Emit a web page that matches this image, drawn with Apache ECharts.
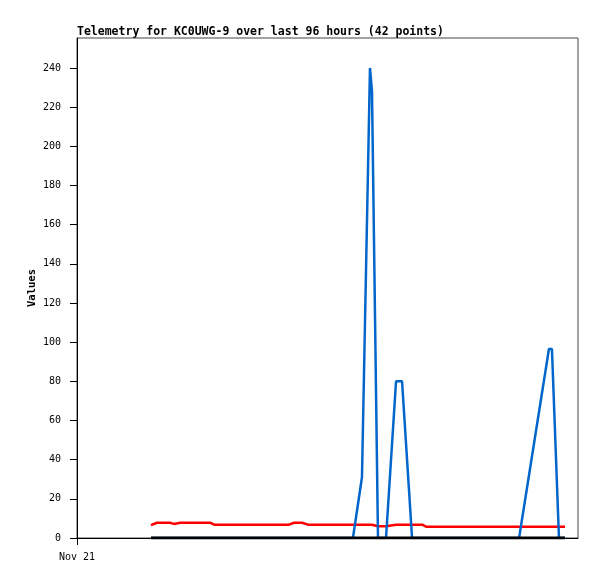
<!DOCTYPE html>
<html>
<head>
<meta charset="utf-8">
<script src="https://cdn.jsdelivr.net/npm/echarts@6/dist/echarts.min.js"></script>
<style>html,body{margin:0;padding:0;background:#fff}#c{width:597px;height:579px}</style>
</head>
<body>
<div id="c"></div>
<script>
// hours since Nov 21 00:00
var times = [3.69,3.99,4.29,4.64,4.84,5.14,5.64,6.14,6.64,6.84,7.63,8.63,9.63,10.58,10.83,11.23,11.53,12.13,12.62,13.12,13.77,14.22,14.62,14.72,15.02,15.42,15.92,16.22,16.72,17.22,17.42,18.11,18.61,19.11,20.11,21.11,22.06,23.55,23.70,24.05,24.20,24.35];
var redValues = [6.6,7.8,7.8,7.8,7.2,7.8,7.8,7.8,7.8,6.8,6.8,6.8,6.8,6.8,7.8,7.8,6.8,6.8,6.8,6.8,6.8,6.8,6.8,6.8,6.0,6.0,6.8,6.8,6.8,6.8,5.8,5.8,5.8,5.8,5.8,5.8,5.8,5.8,5.8,5.8,5.8,5.8];
var blueValues = [0,0,0,0,0,0,0,0,0,0,0,0,0,0,0,0,0,0,0,0,0,31,240,228,0,0,80,80,0,0,0,0,0,0,0,0,0,96.5,96.5,0,0,0];
var blackValues = [0,0,0,0,0,0,0,0,0,0,0,0,0,0,0,0,0,0,0,0,0,0,0,0,0,0,0,0,0,0,0,0,0,0,0,0,0,0,0,0,0,0];
var yTicks = [0,20,40,60,80,100,120,140,160,180,200,220,240];
var xTickLabels = {0: 'Nov 21'};

function pairs(vals){
  var out = [];
  for (var i = 0; i < times.length; i++) out.push([times[i], vals[i]]);
  return out;
}
var font = "'DejaVu Sans Mono', monospace";
var chart = echarts.init(document.getElementById('c'), null, {renderer:'canvas'});
chart.setOption({
  animation: false,
  backgroundColor: '#fff',
  title: {
    text: 'Telemetry for KC0UWG-9 over last 96 hours (42 points)',
    left: 77, top: 26, padding: 0,
    textStyle: {fontFamily: font, fontSize: 11.5, fontWeight: 'bold', color: '#000'}
  },
  grid: {left: 77, top: 38, width: 501, height: 500, show: true, borderColor: '#444', borderWidth: 1, backgroundColor: 'transparent'},
  xAxis: {
    type: 'value', min: 0, max: 25,
    axisLine: {show: true, onZero: false, lineStyle: {color: '#000', width: 1}},
    axisTick: {show: true, length: 7, customValues: [0], lineStyle: {color: '#000'}},
    axisLabel: {customValues: [0], margin: 14, fontFamily: font, fontSize: 10, color: '#000',
      formatter: function(v){ return xTickLabels[v] || ''; }},
    splitLine: {show: false}
  },
  yAxis: {
    type: 'value', min: 0, max: 255.3,
    name: 'Values', nameLocation: 'middle', nameGap: 39, nameMoveOverlap: false,
    nameTextStyle: {fontFamily: font, fontSize: 10.5, fontWeight: 'bold', color: '#000'},
    axisLine: {show: true, lineStyle: {color: '#000', width: 1}},
    axisTick: {show: true, length: 7, customValues: yTicks, lineStyle: {color: '#000'}},
    axisLabel: {customValues: yTicks, margin: 16, fontFamily: font, fontSize: 10, color: '#000'},
    splitLine: {show: false}
  },
  series: [
    {type: 'line', data: pairs(redValues), showSymbol: false, lineStyle: {color: '#ff0000', width: 2.5}, z: 2},
    {type: 'line', data: pairs(blueValues), showSymbol: false, lineStyle: {color: '#0066cc', width: 2.5}, z: 3},
    {type: 'line', data: pairs(blackValues), showSymbol: false, lineStyle: {color: '#000000', width: 3}, z: 4}
  ]
});
</script>
</body>
</html>
